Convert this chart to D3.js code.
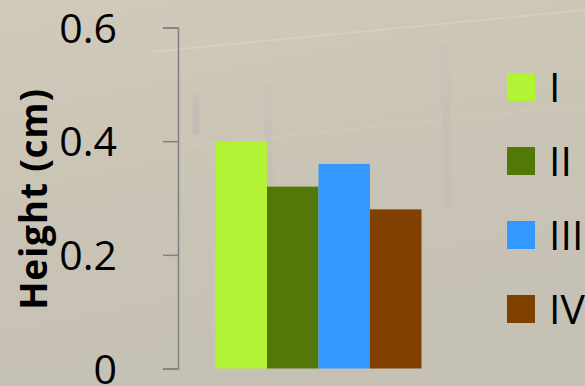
<!DOCTYPE html>
<html>
<head>
<meta charset="utf-8">
<script src="https://cdn.jsdelivr.net/npm/d3@7"></script>
<style>
  html, body { margin: 0; padding: 0; }
  body { width: 585px; height: 386px; overflow: hidden; }
  svg { display: block; }
</style>
</head>
<body>
<svg id="chart" width="585" height="386"></svg>
<script>
// Plant height by treatment group
const series = ["I", "II", "III", "IV"];
const heights = [0.40, 0.32, 0.36, 0.28];
const colors = ["#b3f335", "#527808", "#3399ff", "#804000"];
const yTicks = [0, 0.2, 0.4, 0.6];
const yTickLabels = ["0", "0.2", "0.4", "0.6"];
const yTitle = "Height (cm)";

const W = 585, H = 386;
const svg = d3.select("#chart");
const font = "'Open Sans', Lato, sans-serif";

// Backdrop: soft beige field tone
const defs = svg.append("defs");
const grad = defs.append("linearGradient")
  .attr("id", "bg").attr("x1", 0).attr("y1", 0).attr("x2", 0.3).attr("y2", 1);
grad.append("stop").attr("offset", 0).attr("stop-color", "#d1cabb");
grad.append("stop").attr("offset", 0.5).attr("stop-color", "#cac4b5");
grad.append("stop").attr("offset", 1).attr("stop-color", "#c6c1b5");
svg.append("rect").attr("width", W).attr("height", H).attr("fill", "url(#bg)");

// faint fence wires and posts in the backdrop
const bgLines = svg.append("g").attr("fill", "none");
bgLines.append("path").attr("d", "M150,52 L585,10").attr("stroke", "#ffffff").attr("stroke-opacity", 0.15).attr("stroke-width", 2);
bgLines.append("path").attr("d", "M150,150 L585,105").attr("stroke", "#ffffff").attr("stroke-opacity", 0.08).attr("stroke-width", 1.5);
bgLines.append("path").attr("d", "M268,85 L270,200").attr("stroke", "#b8b8b8").attr("stroke-opacity", 0.2).attr("stroke-width", 8);
bgLines.append("path").attr("d", "M196,95 L196,135").attr("stroke", "#a9aab0").attr("stroke-opacity", 0.22).attr("stroke-width", 7);
bgLines.append("path").attr("d", "M445,45 L447,210").attr("stroke", "#b8b8b8").attr("stroke-opacity", 0.18).attr("stroke-width", 8);

const y = d3.scaleLinear().domain([0, 0.6]).range([368.5, 27.5]);
const x = d3.scaleBand().domain(series).range([215.5, 421.5]).padding(0);

// bars
svg.append("g").selectAll("rect")
  .data(series)
  .join("rect")
  .attr("x", d => x(d))
  .attr("width", x.bandwidth())
  .attr("y", (d, i) => y(heights[i]))
  .attr("height", (d, i) => y(0) - y(heights[i]))
  .attr("fill", (d, i) => colors[i]);

// y axis
const axis = d3.axisLeft(y)
  .tickValues(yTicks)
  .tickFormat((d, i) => yTickLabels[i])
  .tickSize(15)
  .tickSizeOuter(15)
  .tickPadding(46);
const gAxis = svg.append("g").attr("transform", "translate(178,0)").call(axis);
gAxis.selectAll("path, line").attr("stroke", "#808080").attr("stroke-width", 1.5);
gAxis.selectAll("text")
  .attr("font-family", font)
  .attr("font-size", 41)
  .attr("fill", "#000")
  .attr("dy", "0.36em");

// axis title
svg.append("text")
  .attr("transform", "translate(47,199) rotate(-90)")
  .attr("text-anchor", "middle")
  .attr("font-family", font)
  .attr("font-weight", "bold")
  .attr("font-size", 37)
  .attr("letter-spacing", 0.8)
  .attr("fill", "#000")
  .text(yTitle);

// legend
const legend = svg.append("g").selectAll("g")
  .data(series)
  .join("g")
  .attr("transform", (d, i) => `translate(507,${73 + i * 74})`);
legend.append("rect")
  .attr("width", 28).attr("height", 28)
  .attr("fill", (d, i) => colors[i]);
legend.append("text")
  .attr("x", 42).attr("y", 28.5)
  .attr("font-family", font)
  .attr("font-size", 41)
  .attr("fill", "#000")
  .text(d => d);
</script>
</body>
</html>
